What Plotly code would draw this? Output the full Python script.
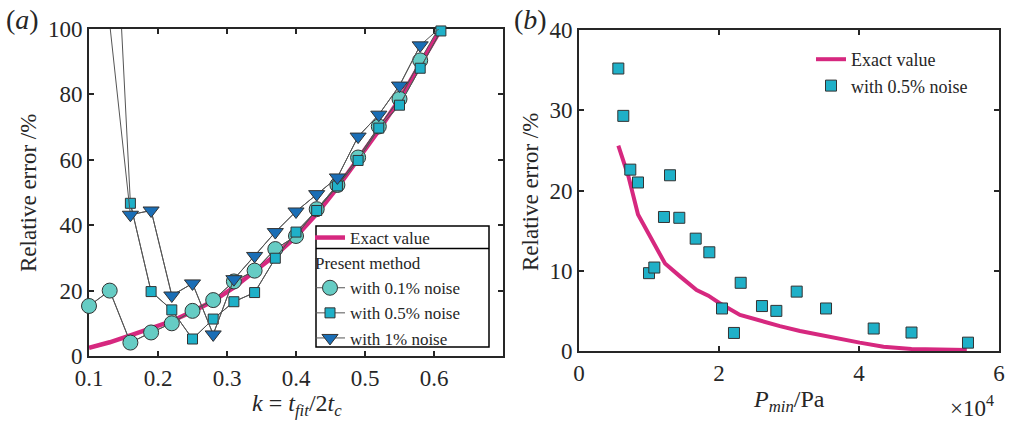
import numpy as np
import plotly.graph_objects as go

# ---------------- data: panel (a) ----------------
k_vals = [0.10, 0.13, 0.16, 0.19, 0.22, 0.25, 0.28, 0.31, 0.34, 0.37, 0.40,
          0.43, 0.46, 0.49, 0.52, 0.55, 0.58, 0.61]
exact_a = [2.5, 4.2, 6.3, 8.4, 10.7, 13.6, 16.8, 21.0, 25.8, 30.8, 36.5,
           43.5, 51.5, 60.0, 69.0, 78.5, 89.0, 100.0]
noise01 = [15.3, 20.0, 4.1, 7.2, 10.0, 13.8, 17.1, 22.8, 26.1, 32.7, 36.7,
           44.9, 52.3, 60.7, 70.2, 78.6, 90.4, 101.5]
noise05 = [260.0, 172.0, 46.7, 19.7, 14.1, 5.2, 11.3, 16.6, 19.4, 29.9, 37.9,
           44.5, 52.0, 59.8, 69.7, 76.7, 88.0, 99.4]
noise1 = [160.0, 102.6, 43.2, 44.5, 18.5, 22.2, 6.6, 23.5, 30.6, 37.9, 44.2,
          49.5, 54.6, 67.1, 73.8, 82.7, 95.0, 100.6]

# ---------------- data: panel (b) ----------------
pmin_exact = [5620, 7050, 8430, 10600, 12290, 14430, 16800, 18480, 20100,
              23000, 26300, 28700, 31570, 35400, 40100, 43500, 47500, 55400]
exact_b = [25.6, 21.8, 17.0, 13.6, 10.9, 9.3, 7.6, 6.9, 5.95, 4.5, 3.66,
           3.1, 2.5, 1.8, 1.04, 0.54, 0.25, 0.12]
pmin_pts = [5620, 6330, 7330, 8430, 10000, 10760, 12140, 13000, 14330, 16670,
            18620, 20430, 22140, 23100, 26140, 28190, 31100, 35290, 42100,
            47500, 55570]
err_pts = [35.2, 29.3, 22.6, 21.0, 9.7, 10.4, 16.7, 21.9, 16.6, 14.0,
           12.3, 5.3, 2.25, 8.5, 5.6, 5.0, 7.4, 5.3, 2.8, 2.3, 1.04]

# ---------------- styles ----------------
FONT = "Liberation Serif"
PINK = "#D6287F"
C_CIRC = "#66CCC4"
C_SQ = "#1FB0C8"
C_TRI = "#1A6EB6"
EDGE = "#333333"
LINEC = "#555555"
AX = "#262626"

W, H = 1012, 421
def px_x(p):
    return p / W
def px_y(p):
    return 1 - p / H

fig = go.Figure()

# exact value (a)
fig.add_trace(go.Scatter(x=k_vals, y=exact_a, mode="lines",
                         line=dict(color=PINK, width=4.5),
                         name="Exact value", legend="legend",
                         xaxis="x", yaxis="y"))

series = [(noise01, "circle", C_CIRC, 15, "with 0.1% noise"),
          (noise05, "square", C_SQ, 10, "with 0.5% noise"),
          (noise1, "triangle-down", C_TRI, 14, "with 1% noise")]
kx = np.array(k_vals)
for vals, sym, col, sz, nm in series:
    v = np.array(vals)
    # full connecting line (clipped by axes)
    fig.add_trace(go.Scatter(x=kx, y=v, mode="lines",
                             line=dict(color=LINEC, width=1),
                             showlegend=False, hoverinfo="skip",
                             xaxis="x", yaxis="y"))
    m = v <= 100
    fig.add_trace(go.Scatter(x=kx[m], y=v[m], mode="lines+markers",
                             line=dict(color=LINEC, width=1),
                             marker=dict(symbol=sym, size=sz, color=col,
                                         line=dict(color=EDGE, width=1)),
                             cliponaxis=False, name=nm,
                             legendgroup="pm",
                             legendgrouptitle=dict(text="Present method",
                                                   font=dict(family=FONT, size=17, color=AX)),
                             legend="legend", xaxis="x", yaxis="y"))

# panel (b)
fig.add_trace(go.Scatter(x=pmin_exact, y=exact_b, mode="lines",
                         line=dict(color=PINK, width=4),
                         name="Exact value", legend="legend2",
                         xaxis="x2", yaxis="y2"))
fig.add_trace(go.Scatter(x=pmin_pts, y=err_pts, mode="markers",
                         marker=dict(symbol="square", size=11, color=C_SQ,
                                     line=dict(color=EDGE, width=1)),
                         cliponaxis=False,
                         name="with 0.5% noise", legend="legend2",
                         xaxis="x2", yaxis="y2"))

axcommon = dict(showline=True, linewidth=2, linecolor=AX, mirror="ticks",
                ticks="inside", ticklen=5, tickwidth=1.5, tickcolor=AX,
                showgrid=False, zeroline=False, layer="below traces",
                tickfont=dict(family=FONT, size=23, color=AX))

fig.update_layout(
    width=W, height=H, margin=dict(l=0, r=0, t=0, b=0, autoexpand=False),
    paper_bgcolor="white", plot_bgcolor="white",
    xaxis=dict(domain=[px_x(89), px_x(503)], range=[0.1, 0.7],
               tickvals=[0.1, 0.2, 0.3, 0.4, 0.5, 0.6],
               ticktext=["0.1", "0.2", "0.3", "0.4", "0.5", "0.6"],
               anchor="y", **axcommon),
    yaxis=dict(domain=[px_y(356), px_y(29)], range=[0, 100],
               tickvals=[0, 20, 40, 60, 80, 100], anchor="x", **axcommon),
    xaxis2=dict(domain=[px_x(579), px_x(999)], range=[0, 60000],
                tickvals=[0, 20000, 40000, 60000], ticktext=["0", "2", "4", "6"],
                anchor="y2", **axcommon),
    yaxis2=dict(domain=[px_y(351), px_y(30)], range=[0, 40],
                tickvals=[0, 10, 20, 30, 40], anchor="x2", **axcommon),
    legend=dict(x=px_x(310), y=px_y(220), xanchor="left", yanchor="top",
                bgcolor="rgba(0,0,0,0)", borderwidth=0,
                font=dict(family=FONT, size=17, color=AX),
                tracegroupgap=0, itemwidth=30),
    legend2=dict(x=px_x(811), y=px_y(41), xanchor="left", yanchor="top",
                 bgcolor="rgba(0,0,0,0)", borderwidth=0,
                 font=dict(family=FONT, size=18, color=AX), itemwidth=30),
    showlegend=True,
)

# legend frame for (a)
fig.add_shape(type="rect", xref="paper", yref="paper",
              x0=px_x(316), x1=px_x(489), y0=px_y(347), y1=px_y(226),
              line=dict(color="black", width=1.5), fillcolor="white", layer="above")
fig.add_shape(type="line", xref="paper", yref="paper",
              x0=px_x(316), x1=px_x(489), y0=px_y(248.5), y1=px_y(248.5),
              line=dict(color="black", width=1.5))

ann = [
    dict(text="Relative error /%", x=px_x(28), y=px_y(193), textangle=-90, size=23),
    dict(text="Relative error /%", x=px_x(531), y=px_y(192), textangle=-90, size=23),
    dict(text="<i>k</i> = <i>t</i><sub><i>fit</i></sub>/2<i>t</i><sub><i>c</i></sub>",
         x=px_x(297), y=px_y(405), size=24),
    dict(text="<i>P</i><sub><i>min</i></sub>/Pa", x=px_x(789), y=px_y(401), size=24),
    dict(text="×10<sup>4</sup>", x=px_x(972), y=px_y(406), size=23),
    dict(text="(<i>a</i>)", x=px_x(22), y=px_y(19), size=28),
    dict(text="(<i>b</i>)", x=px_x(530), y=px_y(19), size=28),
]
for a in ann:
    fig.add_annotation(text=a["text"], x=a["x"], y=a["y"], xref="paper", yref="paper",
                       showarrow=False, xanchor="center", yanchor="middle",
                       textangle=a.get("textangle", 0),
                       font=dict(family=FONT, size=a.get("size", 22), color=AX))

fig.write_html("out.html")
